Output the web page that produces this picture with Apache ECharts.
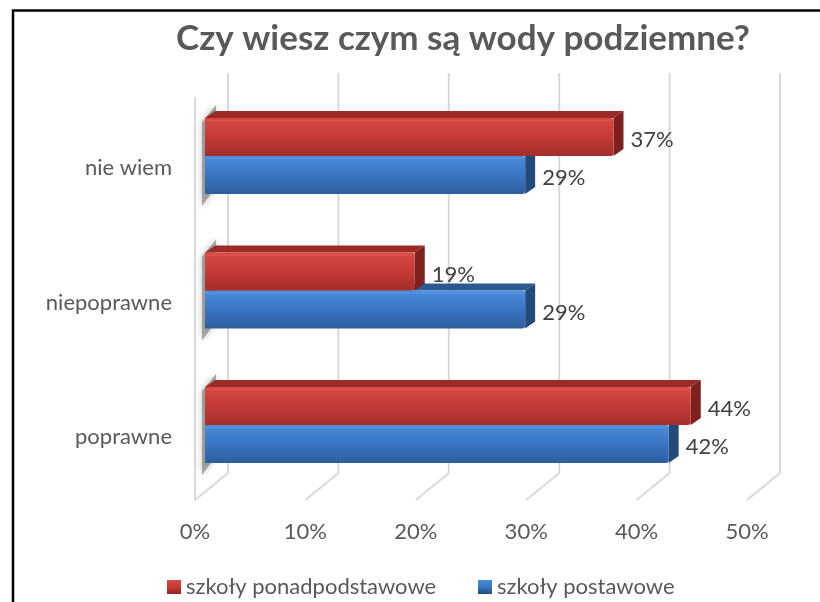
<!DOCTYPE html>
<html><head><meta charset="utf-8">
<script src="https://cdn.jsdelivr.net/npm/echarts@6/dist/echarts.min.js"></script>
<style>html,body{margin:0;padding:0;background:#fff;overflow:hidden}#c{width:820px;height:602px}</style>
</head><body><div id="c"></div>
<script>
const titleText = 'Czy wiesz czym są wody podziemne?';
const categories = ['nie wiem', 'niepoprawne', 'poprawne'];
const seriesNames = ['szkoły ponadpodstawowe', 'szkoły postawowe'];
const ponadpodstawowe = [37, 19, 44];
const podstawowe = [29, 29, 42];
const ticks = [0, 10, 20, 30, 40, 50];

const FONT = 'Lato';
const FS = 22;
const DX = 10, DY = -7, BAR_H = 38, OFF = 10;

function grad(c1, c2, c3) {
  return new echarts.graphic.LinearGradient(0, 0, 0, 1, [
    {offset: 0, color: c1}, {offset: 0.5, color: c2}, {offset: 1, color: c3}
  ]);
}
const styles = [
  {front: grad('#D94944', '#C53B37', '#A42E2B'), top: '#9C2B28', side: '#7E201E', edge: '#E25550'},
  {front: grad('#4A8CDB', '#3A76C2', '#2D5E9E'), top: '#2C5990', side: '#234A7C', edge: '#5A9AE6'}
];

function barRender(sIdx) {
  return function (params, api) {
    const v = api.value(0), ci = api.value(1);
    const c0 = api.coord([0, ci]);
    const c1 = api.coord([v, ci]);
    const st = styles[sIdx];
    const yTop = sIdx === 0 ? c0[1] - BAR_H : c0[1];
    const x0 = c0[0] + OFF, x1 = c1[0] + OFF;
    const children = [];
    if (sIdx === 1) {
      const yt = c0[1] - BAR_H, yb = c0[1] + BAR_H;
      children.push({
        type: 'polygon',
        shape: {points: [[x0 - 3, yt + 4], [x0 + DX + 1, yt + DY - 6], [x0 + DX + 1, yb + DY], [x0 - 3, yb + 12]]},
        style: {fill: 'rgba(110,110,110,0.55)', shadowBlur: 7, shadowColor: 'rgba(0,0,0,0.45)'},
        z2: 0
      });
    }
    children.push({
      type: 'polygon',
      shape: {points: [[x0, yTop], [x0 + DX, yTop + DY], [x1 + DX, yTop + DY], [x1, yTop]]},
      style: {fill: st.top}, z2: 1
    });
    children.push({
      type: 'polygon',
      shape: {points: [[x1, yTop], [x1 + DX, yTop + DY], [x1 + DX, yTop + BAR_H + DY], [x1, yTop + BAR_H]]},
      style: {fill: st.side}, z2: 1
    });
    children.push({
      type: 'rect',
      shape: {x: x0, y: yTop, width: x1 - x0, height: BAR_H, r: [0, 3, 3, 0]},
      style: {fill: st.front}, z2: 2
    });
    children.push({
      type: 'line',
      shape: {x1: x0 + 1, y1: yTop + 2.5, x2: x1 - 2, y2: yTop + 2.5},
      style: {stroke: st.edge, lineWidth: 1.5, opacity: 0.8}, z2: 3
    });
    children.push({
      type: 'text',
      x: x1 + 17, y: yTop + BAR_H / 2 + 3,
      style: {text: v + '%', fill: '#404040', font: FS + 'px ' + FONT, align: 'left', verticalAlign: 'middle'},
      z2: 4
    });
    return {type: 'group', children: children};
  };
}

function wallRender(params, api) {
  const v = api.value(0);
  const p = api.coord([v, 0]);
  const x = p[0];
  const children = [{
    type: 'polyline',
    shape: {points: [[x + 33, 73], [x + 33, 473], [x, 500]]},
    style: {stroke: '#D9D9D9', lineWidth: 2, fill: null}
  }];
  if (v === ticks[0]) {
    children.push({
      type: 'line',
      shape: {x1: x, y1: 97, x2: x, y2: 500},
      style: {stroke: '#D9D9D9', lineWidth: 2}
    });
  }
  return {type: 'group', children: children};
}

const legendText = {fontFamily: FONT, fontSize: FS, color: '#595959'};
const chart = echarts.init(document.getElementById('c'), null, {renderer: 'canvas'});
chart.setOption({
  animation: false,
  backgroundColor: '#fff',
  graphic: [
    {type: 'polyline', shape: {points: [[13, 602], [13, 10.5], [820, 10.5]]}, style: {fill: null, stroke: '#000', lineWidth: 2.5, lineJoin: 'miter'}, z: 100},
    {type: 'text', x: 463, y: 39, style: {text: titleText, fill: '#595959', font: 'bold 35px ' + FONT, align: 'center', verticalAlign: 'middle'}, z: 100}
  ],
  legend: [
    {left: 167, top: 576, padding: 0, itemWidth: 14, itemHeight: 14, icon: 'rect',
     data: [{name: seriesNames[0], itemStyle: {color: grad('#D94944', '#C53B37', '#8E2522')}}],
     textStyle: legendText},
    {left: 478, top: 576, padding: 0, itemWidth: 14, itemHeight: 14, icon: 'rect',
     data: [{name: seriesNames[1], itemStyle: {color: grad('#4A8CDB', '#3A76C2', '#234A7C')}}],
     textStyle: legendText}
  ],
  grid: {left: 195, width: 552, top: 88.75, height: 403.5},
  xAxis: {
    type: 'value', min: 0, max: 50, interval: 10,
    axisLine: {show: false}, axisTick: {show: false}, splitLine: {show: false},
    axisLabel: {formatter: '{value}%', fontFamily: FONT, fontSize: FS, color: '#595959', margin: 29}
  },
  yAxis: {
    type: 'category', data: categories, inverse: true,
    axisLine: {show: false}, axisTick: {show: false}, splitLine: {show: false},
    axisLabel: {fontFamily: FONT, fontSize: FS, color: '#595959', margin: 23, verticalAlign: 'top', lineHeight: 24}
  },
  series: [
    {type: 'custom', name: 'walls', renderItem: wallRender, data: ticks.map(t => [t, 0]), z: 1, silent: true},
    {type: 'custom', name: seriesNames[1], renderItem: barRender(1), data: podstawowe.map((v, i) => [v, i]), z: 2,
     itemStyle: {color: '#3A76C2'}},
    {type: 'custom', name: seriesNames[0], renderItem: barRender(0), data: ponadpodstawowe.map((v, i) => [v, i]), z: 3,
     itemStyle: {color: '#C53B37'}}
  ]
});
</script>
</body></html>
